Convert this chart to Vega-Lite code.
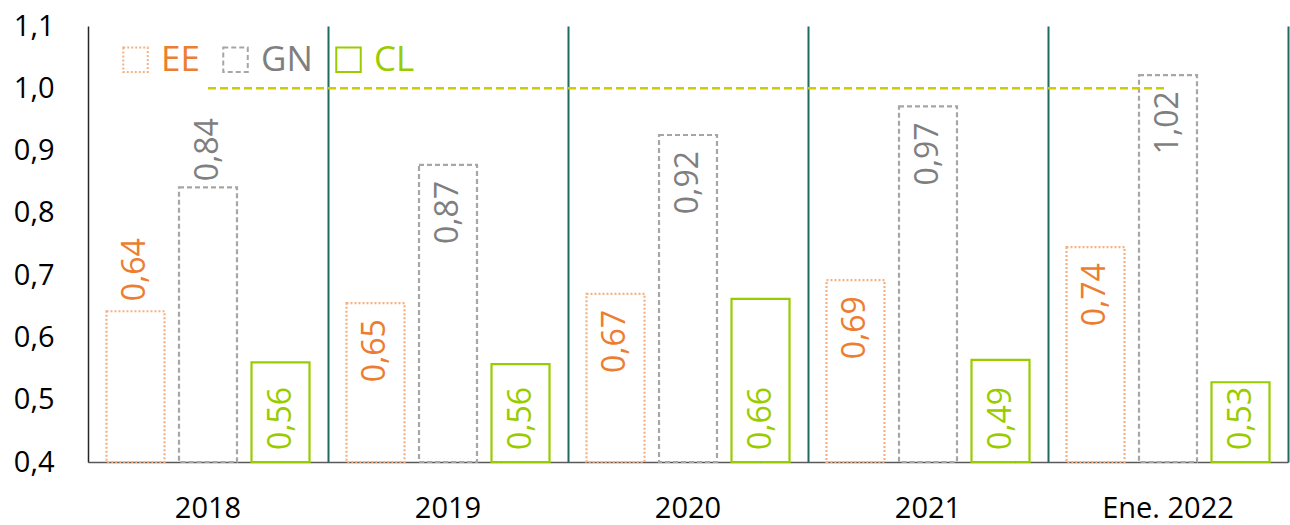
{
  "$schema": "https://vega.github.io/schema/vega-lite/v6.json",
  "width": 1200,
  "height": 436,
  "autosize": {"type": "none"},
  "padding": {"left": 88, "top": 26, "right": 2, "bottom": 63},
  "background": "white",
  "config": {
    "view": {"stroke": null},
    "font": "Open Sans"
  },
  "datasets": {
    "main": [
      {"year": "2018", "serie": "EE", "value": 0.642, "label": "0,64"},
      {"year": "2018", "serie": "GN", "value": 0.841, "label": "0,84"},
      {"year": "2018", "serie": "CL", "value": 0.56, "label": "0,56"},
      {"year": "2019", "serie": "EE", "value": 0.655, "label": "0,65"},
      {"year": "2019", "serie": "GN", "value": 0.877, "label": "0,87"},
      {"year": "2019", "serie": "CL", "value": 0.557, "label": "0,56"},
      {"year": "2020", "serie": "EE", "value": 0.67, "label": "0,67"},
      {"year": "2020", "serie": "GN", "value": 0.925, "label": "0,92"},
      {"year": "2020", "serie": "CL", "value": 0.662, "label": "0,66"},
      {"year": "2021", "serie": "EE", "value": 0.692, "label": "0,69"},
      {"year": "2021", "serie": "GN", "value": 0.971, "label": "0,97"},
      {"year": "2021", "serie": "CL", "value": 0.564, "label": "0,49"},
      {"year": "Ene. 2022", "serie": "EE", "value": 0.745, "label": "0,74"},
      {"year": "Ene. 2022", "serie": "GN", "value": 1.021, "label": "1,02"},
      {"year": "Ene. 2022", "serie": "CL", "value": 0.528, "label": "0,53"}
    ],
    "meta": [
      {"year": "2018", "meta": 1.0},
      {"year": "2019", "meta": 1.0},
      {"year": "2020", "meta": 1.0},
      {"year": "2021", "meta": 1.0},
      {"year": "Ene. 2022", "meta": 1.0}
    ]
  },
  "encoding": {
    "x": {
      "field": "year",
      "type": "nominal",
      "sort": ["2018", "2019", "2020", "2021", "Ene. 2022"],
      "scale": {"paddingInner": 0, "paddingOuter": 0},
      "axis": {
        "title": null,
        "labelAngle": 0,
        "labelFont": "Open Sans",
        "labelFontSize": 29,
        "labelColor": "#000000",
        "labelPadding": 32,
        "ticks": false,
        "domainColor": "#595959",
        "domainWidth": 1.5,
        "grid": true,
        "bandPosition": 1,
        "gridColor": "#1E6B63",
        "gridWidth": 2,
        "gridOpacity": 1
      }
    },
    "xOffset": {
      "field": "serie",
      "type": "nominal",
      "sort": ["EE", "GN", "CL"],
      "scale": {"paddingInner": 0.2, "paddingOuter": 0.255}
    }
  },
  "layer": [
    {
      "data": {"name": "main"},
      "mark": {"type": "bar", "fill": "transparent", "strokeWidth": 2.2},
      "encoding": {
        "y": {
          "field": "value",
          "type": "quantitative",
          "scale": {"domain": [0.4, 1.1], "nice": false, "zero": false},
          "axis": {
            "title": null,
            "values": [0.4, 0.5, 0.6, 0.7, 0.8, 0.9, 1.0, 1.1],
            "labelExpr": "replace(format(datum.value, '.1f'), '.', ',')",
            "labelFont": "Open Sans",
            "labelFontSize": 29,
            "labelColor": "#000000",
            "labelPadding": 34,
            "ticks": false,
            "grid": false,
            "domainColor": "#262626",
            "domainWidth": 1.5
          }
        },
        "y2": {"datum": 0.4},
        "stroke": {
          "field": "serie",
          "type": "nominal",
          "scale": {"domain": ["EE", "GN", "CL"], "range": ["#F4B183", "#A6A6A6", "#99CC00"]},
          "legend": {
            "title": null,
            "orient": "none",
            "legendX": 30,
            "legendY": 16,
            "direction": "horizontal",
            "columns": 3,
            "columnPadding": 18,
            "padding": 0,
            "symbolType": "square",
            "symbolSize": 600,
            "symbolStrokeWidth": 2,
            "symbolFillColor": "transparent",
            "labelFont": "Open Sans",
            "labelFontSize": 35,
            "labelOffset": 8,
            "labelColor": {"expr": "datum.value === 'EE' ? '#ED7D31' : datum.value === 'CL' ? '#99CC00' : '#7F7F7F'"},
            "encode": {
              "symbols": {"update": {"fill": {"value": "transparent"}}}
            }
          }
        },
        "strokeDash": {
          "field": "serie",
          "type": "nominal",
          "scale": {"domain": ["EE", "GN", "CL"], "range": [[2, 2], [5, 3], [1, 0]]},
          "legend": null
        }
      }
    },
    {
      "data": {"name": "meta"},
      "mark": {"type": "line", "color": "#CCCC00", "strokeWidth": 2.5, "strokeDash": [8, 4]},
      "encoding": {
        "xOffset": null,
        "y": {"field": "meta", "type": "quantitative"}
      }
    },
    {
      "data": {"name": "main"},
      "transform": [{"filter": "datum.serie === 'EE' && datum.year !== '2018'"}],
      "mark": {"type": "text", "angle": 270, "align": "right", "baseline": "middle", "dx": -16, "font": "Open Sans", "fontSize": 32, "color": "#ED7D31"},
      "encoding": {
        "y": {"field": "value", "type": "quantitative"},
        "text": {"field": "label"}
      }
    },
    {
      "data": {"name": "main"},
      "transform": [{"filter": "datum.serie === 'GN' && datum.year !== '2018'"}],
      "mark": {"type": "text", "angle": 270, "align": "right", "baseline": "middle", "dx": -16, "font": "Open Sans", "fontSize": 32, "color": "#7F7F7F"},
      "encoding": {
        "y": {"field": "value", "type": "quantitative"},
        "text": {"field": "label"}
      }
    },
    {
      "data": {"name": "main"},
      "transform": [{"filter": "datum.serie === 'EE' && datum.year === '2018'"}],
      "mark": {"type": "text", "angle": 270, "align": "left", "baseline": "middle", "dx": 10, "font": "Open Sans", "fontSize": 32, "color": "#ED7D31"},
      "encoding": {
        "y": {"field": "value", "type": "quantitative"},
        "text": {"field": "label"}
      }
    },
    {
      "data": {"name": "main"},
      "transform": [{"filter": "datum.serie === 'GN' && datum.year === '2018'"}],
      "mark": {"type": "text", "angle": 270, "align": "left", "baseline": "middle", "dx": 6, "font": "Open Sans", "fontSize": 32, "color": "#7F7F7F"},
      "encoding": {
        "y": {"field": "value", "type": "quantitative"},
        "text": {"field": "label"}
      }
    },
    {
      "data": {"name": "main"},
      "transform": [{"filter": "datum.serie === 'CL'"}],
      "mark": {"type": "text", "angle": 270, "align": "left", "baseline": "middle", "dx": 12, "font": "Open Sans", "fontSize": 32, "color": "#99CC00"},
      "encoding": {
        "y": {"datum": 0.4},
        "text": {"field": "label"}
      }
    }
  ]
}
